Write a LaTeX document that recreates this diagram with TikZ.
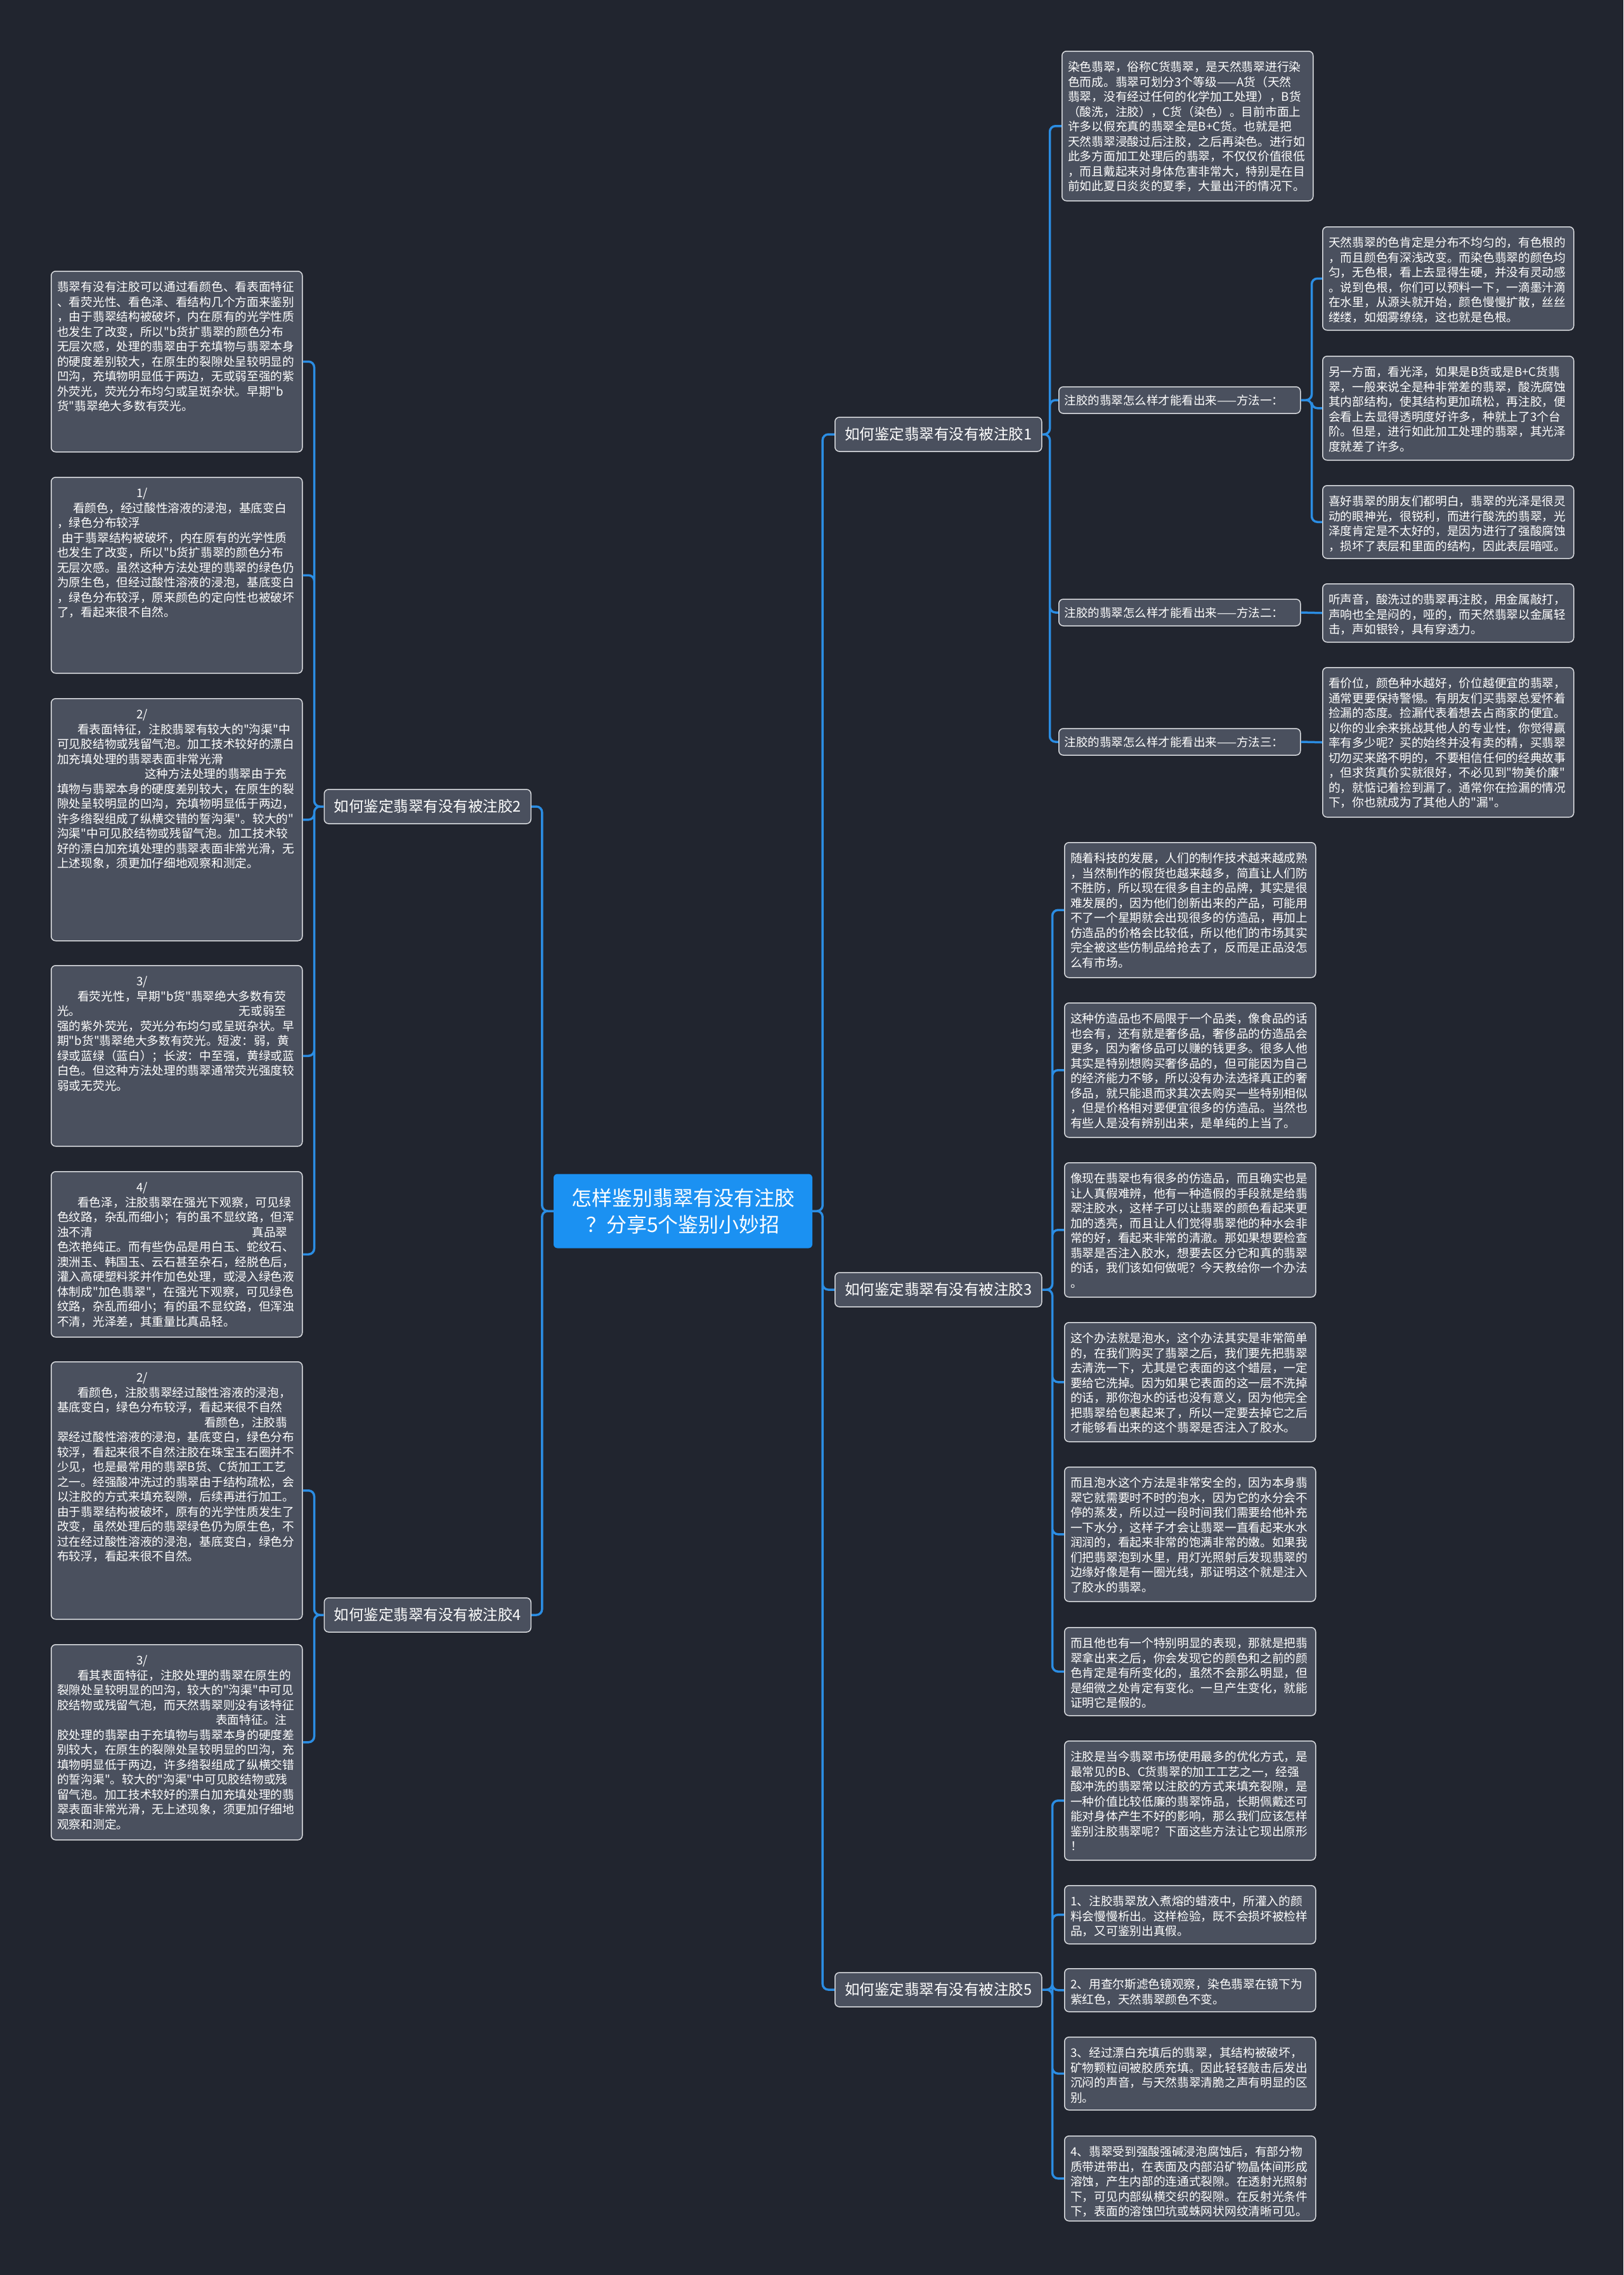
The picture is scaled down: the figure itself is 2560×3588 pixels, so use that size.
\documentclass[tikz,border=0pt]{standalone}
\usepackage{fontspec}
\setmainfont{Noto Sans CJK SC}[Ligatures=TeXOff]
\definecolor{bgdark}{HTML}{21252F}
\definecolor{boxfill}{HTML}{4A505E}
\definecolor{boxline}{HTML}{DADCE0}
\definecolor{linkblue}{HTML}{2B8DE3}
\definecolor{rootblue}{HTML}{1B91F2}
\begin{document}
\begin{tikzpicture}[x=1pt,y=-1pt,
  leafbox/.style={draw=boxline,fill=boxfill,line width=1.5pt,rounded corners=7pt,text=white,
    font=\fontsize{18.7}{23.5}\selectfont,text width=377pt,inner xsep=9.5pt,inner ysep=12pt,
    text height=20pt,align=left,anchor=north west},
  methodbox/.style={draw=boxline,fill=boxfill,line width=1.5pt,rounded corners=7pt,text=white,
    font=\fontsize{18.5}{22}\selectfont,text width=363pt,inner xsep=9pt,minimum height=42pt,
    align=left,anchor=west},
  topicbox/.style={draw=boxline,fill=boxfill,line width=1.5pt,rounded corners=7pt,text=white,
    font=\fontsize{23.5}{28}\selectfont,minimum width=326pt,minimum height=54pt},
  rootbox/.style={fill=rootblue,rounded corners=6pt,text=white,font=\fontsize{32}{42}\selectfont,
    align=center,minimum width=408pt,minimum height=117pt},
  link/.style={draw=linkblue,line width=3.5pt,rounded corners=9pt}]
  \fill[bgdark] (0,0) rectangle (2560,3588);
  \useasboundingbox (0,0) rectangle (2560,3588);

  \node[rootbox] (root) at (1077,1910) {怎样鉴别翡翠有没有注胶\\？分享5个鉴别小妙招};

  \node[topicbox,anchor=west] (b1) at (1316,685) {如何鉴定翡翠有没有被注胶1};
  \node[topicbox,anchor=east] (b2) at (838,1272) {如何鉴定翡翠有没有被注胶2};
  \node[topicbox,anchor=west] (b3) at (1316,2034) {如何鉴定翡翠有没有被注胶3};
  \node[topicbox,anchor=east] (b4) at (838,2547) {如何鉴定翡翠有没有被注胶4};
  \node[topicbox,anchor=west] (b5) at (1316,3138) {如何鉴定翡翠有没有被注胶5};

  \node[leafbox,text depth=192pt] (r1) at (1674,80) {染色翡翠，俗称C货翡翠，是天然翡翠进行染\\
    色而成。翡翠可划分3个等级——A货（天然\\
    翡翠，没有经过任何的化学加工处理），B货\\
    （酸洗，注胶），C货（染色）。目前市面上\\
    许多以假充真的翡翠全是B+C货。也就是把\\
    天然翡翠浸酸过后注胶，之后再染色。进行如\\
    此多方面加工处理后的翡翠，不仅仅价值很低\\
    ，而且戴起来对身体危害非常大，特别是在目\\
    前如此夏日炎炎的夏季，大量出汗的情况下。};
  \node[methodbox] (m1) at (1669,631) {注胶的翡翠怎么样才能看出来——方法一：};
  \node[methodbox] (m2) at (1669,966) {注胶的翡翠怎么样才能看出来——方法二：};
  \node[methodbox] (m3) at (1669,1170) {注胶的翡翠怎么样才能看出来——方法三：};

  \node[leafbox,text depth=119pt] (m1a) at (2085,357) {天然翡翠的色肯定是分布不均匀的，有色根的\\
    ，而且颜色有深浅改变。而染色翡翠的颜色均\\
    匀，无色根，看上去显得生硬，并没有灵动感\\
    。说到色根，你们可以预料一下，一滴墨汁滴\\
    在水里，从源头就开始，颜色慢慢扩散，丝丝\\
    缕缕，如烟雾缭绕，这也就是色根。};
  \node[leafbox,text depth=120pt] (m1b) at (2085,561) {另一方面，看光泽，如果是B货或是B+C货翡\\
    翠，一般来说全是种非常差的翡翠，酸洗腐蚀\\
    其内部结构，使其结构更加疏松，再注胶，便\\
    会看上去显得透明度好许多，种就上了3个台\\
    阶。但是，进行如此加工处理的翡翠，其光泽\\
    度就差了许多。};
  \node[leafbox,text depth=71pt] (m1c) at (2085,765) {喜好翡翠的朋友们都明白，翡翠的光泽是很灵\\
    动的眼神光，很锐利，而进行酸洗的翡翠，光\\
    泽度肯定是不太好的，是因为进行了强酸腐蚀\\
    ，损坏了表层和里面的结构，因此表层暗哑。};
  \node[leafbox,text depth=48pt] (m2a) at (2085,920) {听声音，酸洗过的翡翠再注胶，用金属敲打，\\
    声响也全是闷的，哑的，而天然翡翠以金属轻\\
    击，声如银铃，具有穿透力。};
  \node[leafbox,text depth=192pt] (m3a) at (2085,1052) {看价位，颜色种水越好，价位越便宜的翡翠，\\
    通常更要保持警惕。有朋友们买翡翠总爱怀着\\
    捡漏的态度。捡漏代表着想去占商家的便宜。\\
    以你的业余来挑战其他人的专业性，你觉得赢\\
    率有多少呢？买的始终并没有卖的精，买翡翠\\
    切勿买来路不明的，不要相信任何的经典故事\\
    ，但求货真价实就很好，不必见到"物美价廉"\\
    的，就惦记着捡到漏了。通常你在捡漏的情况\\
    下，你也就成为了其他人的"漏"。};

  \node[leafbox,text depth=169pt] (t3a) at (1678,1328) {随着科技的发展，人们的制作技术越来越成熟\\
    ，当然制作的假货也越来越多，简直让人们防\\
    不胜防，所以现在很多自主的品牌，其实是很\\
    难发展的，因为他们创新出来的产品，可能用\\
    不了一个星期就会出现很多的仿造品，再加上\\
    仿造品的价格会比较低，所以他们的市场其实\\
    完全被这些仿制品给抢去了，反而是正品没怎\\
    么有市场。};
  \node[leafbox,text depth=168pt] (t3b) at (1678,1581) {这种仿造品也不局限于一个品类，像食品的话\\
    也会有，还有就是奢侈品，奢侈品的仿造品会\\
    更多，因为奢侈品可以赚的钱更多。很多人他\\
    其实是特别想购买奢侈品的，但可能因为自己\\
    的经济能力不够，所以没有办法选择真正的奢\\
    侈品，就只能退而求其次去购买一些特别相似\\
    ，但是价格相对要便宜很多的仿造品。当然也\\
    有些人是没有辨别出来，是单纯的上当了。};
  \node[leafbox,text depth=168pt] (t3c) at (1678,1833) {像现在翡翠也有很多的仿造品，而且确实也是\\
    让人真假难辨，他有一种造假的手段就是给翡\\
    翠注胶水，这样子可以让翡翠的颜色看起来更\\
    加的透亮，而且让人们觉得翡翠他的种水会非\\
    常的好，看起来非常的清澈。那如果想要检查\\
    翡翠是否注入胶水，想要去区分它和真的翡翠\\
    的话，我们该如何做呢？今天教给你一个办法\\
    。};
  \node[leafbox,text depth=144pt] (t3d) at (1678,2085) {这个办法就是泡水，这个办法其实是非常简单\\
    的，在我们购买了翡翠之后，我们要先把翡翠\\
    去清洗一下，尤其是它表面的这个蜡层，一定\\
    要给它洗掉。因为如果它表面的这一层不洗掉\\
    的话，那你泡水的话也没有意义，因为他完全\\
    把翡翠给包裹起来了，所以一定要去掉它之后\\
    才能够看出来的这个翡翠是否注入了胶水。};
  \node[leafbox,text depth=168pt] (t3e) at (1678,2313) {而且泡水这个方法是非常安全的，因为本身翡\\
    翠它就需要时不时的泡水，因为它的水分会不\\
    停的蒸发，所以过一段时间我们需要给他补充\\
    一下水分，这样子才会让翡翠一直看起来水水\\
    润润的，看起来非常的饱满非常的嫩。如果我\\
    们把翡翠泡到水里，用灯光照射后发现翡翠的\\
    边缘好像是有一圈光线，那证明这个就是注入\\
    了胶水的翡翠。};
  \node[leafbox,text depth=95pt] (t3f) at (1678,2566) {而且他也有一个特别明显的表现，那就是把翡\\
    翠拿出来之后，你会发现它的颜色和之前的颜\\
    色肯定是有所变化的，虽然不会那么明显，但\\
    是细微之处肯定有变化。一旦产生变化，就能\\
    证明它是假的。};

  \node[leafbox,text depth=144pt] (t5a) at (1678,2745) {注胶是当今翡翠市场使用最多的优化方式，是\\
    最常见的B、C货翡翠的加工工艺之一，经强\\
    酸冲洗的翡翠常以注胶的方式来填充裂隙，是\\
    一种价值比较低廉的翡翠饰品，长期佩戴还可\\
    能对身体产生不好的影响，那么我们应该怎样\\
    鉴别注胶翡翠呢？下面这些方法让它现出原形\\
    ！};
  \node[leafbox,text depth=48pt] (t5b) at (1678,2973) {1、注胶翡翠放入煮熔的蜡液中，所灌入的颜\\
    料会慢慢析出。这样检验，既不会损坏被检样\\
    品，又可鉴别出真假。};
  \node[leafbox,text depth=24pt] (t5c) at (1678,3104) {2、用查尔斯滤色镜观察，染色翡翠在镜下为\\
    紫红色，天然翡翠颜色不变。};
  \node[leafbox,text depth=71pt] (t5d) at (1678,3212) {3、经过漂白充填后的翡翠，其结构被破坏，\\
    矿物颗粒间被胶质充填。因此轻轻敲击后发出\\
    沉闷的声音，与天然翡翠清脆之声有明显的区\\
    别。};
  \node[leafbox,text depth=90pt] (t5e) at (1678,3368) {4、翡翠受到强酸强碱浸泡腐蚀后，有部分物\\
    质带进带出，在表面及内部沿矿物晶体间形成\\
    溶蚀，产生内部的连通式裂隙。在透射光照射\\
    下，可见内部纵横交织的裂隙。在反射光条件\\
    下，表面的溶蚀凹坑或蛛网状网纹清晰可见。};

  \node[leafbox,text depth=241pt] (l1) at (80,427) {翡翠有没有注胶可以通过看颜色、看表面特征\\
    、看荧光性、看色泽、看结构几个方面来鉴别\\
    ，由于翡翠结构被破坏，内在原有的光学性质\\
    也发生了改变，所以"b货扩翡翠的颜色分布\\
    无层次感，处理的翡翠由于充填物与翡翠本身\\
    的硬度差别较大，在原生的裂隙处呈较明显的\\
    凹沟，充填物明显低于两边，无或弱至强的紫\\
    外荧光，荧光分布均匀或呈斑杂状。早期"b\\
    货"翡翠绝大多数有荧光。};
  \node[leafbox,text depth=265pt] (l2) at (80,752) {\hspace*{125pt}1/\\
    \hspace*{25pt}看颜色，经过酸性溶液的浸泡，基底变白\\
    ，绿色分布较浮\\
    \hspace*{7pt}由于翡翠结构被破坏，内在原有的光学性质\\
    也发生了改变，所以"b货扩翡翠的颜色分布\\
    无层次感。虽然这种方法处理的翡翠的绿色仍\\
    为原生色，但经过酸性溶液的浸泡，基底变白\\
    ，绿色分布较浮，原来颜色的定向性也被破坏\\
    了，看起来很不自然。};
  \node[leafbox,text depth=338pt] (l3) at (80,1101) {\hspace*{125pt}2/\\
    \hspace*{32pt}看表面特征，注胶翡翠有较大的"沟渠"中\\
    可见胶结物或残留气泡。加工技术较好的漂白\\
    加充填处理的翡翠表面非常光滑\\
    \hspace*{138pt}这种方法处理的翡翠由于充\\
    填物与翡翠本身的硬度差别较大，在原生的裂\\
    隙处呈较明显的凹沟，充填物明显低于两边，\\
    许多绺裂组成了纵横交错的誓沟渠"。较大的"\\
    沟渠"中可见胶结物或残留气泡。加工技术较\\
    好的漂白加充填处理的翡翠表面非常光滑，无\\
    上述现象，须更加仔细地观察和测定。};
  \node[leafbox,text depth=241pt] (l4) at (80,1522) {\hspace*{125pt}3/\\
    \hspace*{32pt}看荧光性，早期"b货"翡翠绝大多数有荧\\
    光。\hspace{249pt}无或弱至\\
    强的紫外荧光，荧光分布均匀或呈斑杂状。早\\
    期"b货"翡翠绝大多数有荧光。短波：弱，黄\\
    绿或蓝绿（蓝白）；长波：中至强，黄绿或蓝\\
    白色。但这种方法处理的翡翠通常荧光强度较\\
    弱或无荧光。};
  \node[leafbox,text depth=217pt] (l5) at (80,1847) {\hspace*{125pt}4/\\
    \hspace*{32pt}看色泽，注胶翡翠在强光下观察，可见绿\\
    色纹路，杂乱而细小；有的虽不显纹路，但浑\\
    浊不清\hspace{251pt}真品翠\\
    色浓艳纯正。而有些伪品是用白玉、蛇纹石、\\
    澳洲玉、韩国玉、云石甚至杂石，经脱色后，\\
    灌入高硬塑料浆并作加色处理，或浸入绿色液\\
    体制成"加色翡翠"，在强光下观察，可见绿色\\
    纹路，杂乱而细小；有的虽不显纹路，但浑浊\\
    不清，光泽差，其重量比真品轻。};
  \node[leafbox,text depth=362pt] (l6) at (80,2147) {\hspace*{125pt}2/\\
    \hspace*{32pt}看颜色，注胶翡翠经过酸性溶液的浸泡，\\
    基底变白，绿色分布较浮，看起来很不自然\\
    \hspace*{232pt}看颜色，注胶翡\\
    翠经过酸性溶液的浸泡，基底变白，绿色分布\\
    较浮，看起来很不自然注胶在珠宝玉石圈并不\\
    少见，也是最常用的翡翠B货、C货加工工艺\\
    之一。经强酸冲洗过的翡翠由于结构疏松，会\\
    以注胶的方式来填充裂隙，后续再进行加工。\\
    由于翡翠结构被破坏，原有的光学性质发生了\\
    改变，虽然处理后的翡翠绿色仍为原生色，不\\
    过在经过酸性溶液的浸泡，基底变白，绿色分\\
    布较浮，看起来很不自然。};
  \node[leafbox,text depth=264pt] (l7) at (80,2593) {\hspace*{125pt}3/\\
    \hspace*{32pt}看其表面特征，注胶处理的翡翠在原生的\\
    裂隙处呈较明显的凹沟，较大的"沟渠"中可见\\
    胶结物或残留气泡，而天然翡翠则没有该特征\\
    \hspace*{250pt}表面特征。注\\
    胶处理的翡翠由于充填物与翡翠本身的硬度差\\
    别较大，在原生的裂隙处呈较明显的凹沟，充\\
    填物明显低于两边，许多绺裂组成了纵横交错\\
    的誓沟渠"。较大的"沟渠"中可见胶结物或残\\
    留气泡。加工技术较好的漂白加充填处理的翡\\
    翠表面非常光滑，无上述现象，须更加仔细地\\
    观察和测定。};

  \draw[link]
    (root.east) -- ++(16,0) |- (b1.west)
    (root.east) -- ++(16,0) |- (b3.west)
    (root.east) -- ++(16,0) |- (b5.west)
    (root.west) -- ++(-18,0) |- (b2.east)
    (root.west) -- ++(-18,0) |- (b4.east);
  \draw[link]
    (b1.east) -- ++(12,0) |- (r1.west)
    (b1.east) -- ++(12,0) |- (m1.west)
    (b1.east) -- ++(12,0) |- (m2.west)
    (b1.east) -- ++(12,0) |- (m3.west);
  \draw[link]
    (m1.east) -- ++(17,0) |- (m1a.west)
    (m1.east) -- ++(17,0) |- (m1b.west)
    (m1.east) -- ++(17,0) |- (m1c.west)
    (m2.east) -- (m2a.west)
    (m3.east) -- (m3a.west);
  \draw[link]
    (b3.east) -- ++(16,0) |- (t3a.west)
    (b3.east) -- ++(16,0) |- (t3b.west)
    (b3.east) -- ++(16,0) |- (t3c.west)
    (b3.east) -- ++(16,0) |- (t3d.west)
    (b3.east) -- ++(16,0) |- (t3e.west)
    (b3.east) -- ++(16,0) |- (t3f.west);
  \draw[link]
    (b5.east) -- ++(16,0) |- (t5a.west)
    (b5.east) -- ++(16,0) |- (t5b.west)
    (b5.east) -- ++(16,0) |- (t5c.west)
    (b5.east) -- ++(16,0) |- (t5d.west)
    (b5.east) -- ++(16,0) |- (t5e.west);
  \draw[link]
    (b2.west) -- ++(-15,0) |- (l1.east)
    (b2.west) -- ++(-15,0) |- (l2.east)
    (b2.west) -- ++(-15,0) |- (l3.east)
    (b2.west) -- ++(-15,0) |- (l4.east)
    (b2.west) -- ++(-15,0) |- (l5.east)
    (b4.west) -- ++(-15,0) |- (l6.east)
    (b4.west) -- ++(-15,0) |- (l7.east);
\end{tikzpicture}
\end{document}
